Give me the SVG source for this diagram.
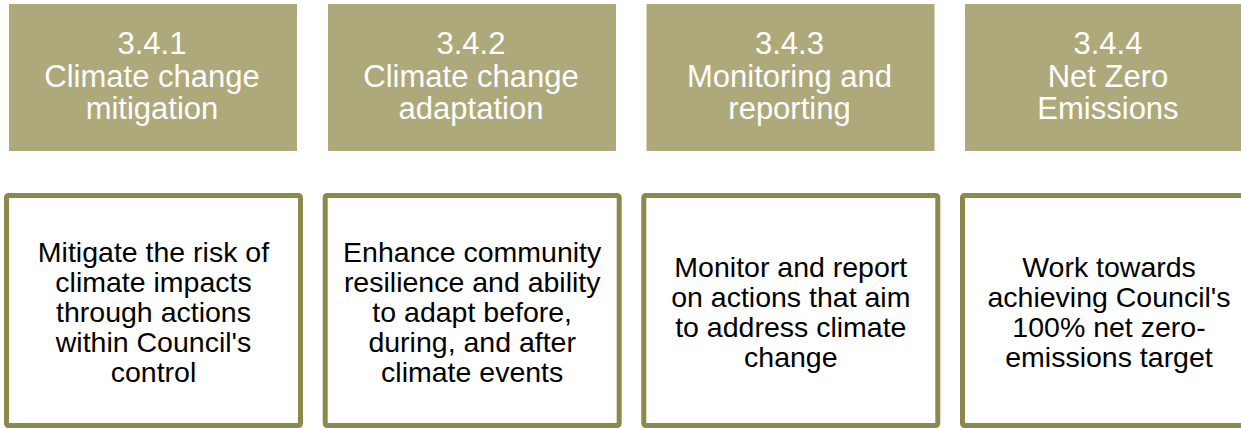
<svg xmlns="http://www.w3.org/2000/svg" width="1241" height="428" viewBox="0 0 1241 428">
  <style>
    .head { fill: #ADA97B; }
    .body { fill: #FFFFFF; stroke: #8C894B; stroke-width: 5; }
    .ht { font-family: "Liberation Sans", Arial, sans-serif; font-size: 31px; fill: #FFFFFF; text-anchor: middle; }
    .bt { font-family: "Liberation Sans", Arial, sans-serif; font-size: 28.5px; fill: #000000; text-anchor: middle; }
  </style>
  <rect width="1241" height="428" fill="#FFFFFF"/>
  <g id="connectors"></g>
  <g id="head1">
    <rect class="head" x="9" y="4" width="288" height="147"/>
    <text class="ht" x="152" y="54">3.4.1</text>
    <text class="ht" x="152" y="87">Climate change</text>
    <text class="ht" x="152" y="119">mitigation</text>
  </g>
  <g id="head2">
    <rect class="head" x="328" y="4" width="288" height="147"/>
    <text class="ht" x="471" y="54">3.4.2</text>
    <text class="ht" x="471" y="87">Climate change</text>
    <text class="ht" x="471" y="119">adaptation</text>
  </g>
  <g id="head3">
    <rect class="head" x="646.5" y="4" width="288" height="147"/>
    <text class="ht" x="789.5" y="54">3.4.3</text>
    <text class="ht" x="789.5" y="87">Monitoring and</text>
    <text class="ht" x="789.5" y="119">reporting</text>
  </g>
  <g id="head4">
    <rect class="head" x="965" y="4" width="288" height="147"/>
    <text class="ht" x="1108" y="54">3.4.4</text>
    <text class="ht" x="1108" y="87">Net Zero</text>
    <text class="ht" x="1108" y="119">Emissions</text>
  </g>
  <g id="body1">
    <rect class="body" x="6.5" y="195.5" width="294" height="230" rx="2"/>
    <text class="bt" x="153.5" y="262">Mitigate the risk of</text>
    <text class="bt" x="153.5" y="292">climate impacts</text>
    <text class="bt" x="153.5" y="322">through actions</text>
    <text class="bt" x="153.5" y="352">within Council's</text>
    <text class="bt" x="153.5" y="382">control</text>
  </g>
  <g id="body2">
    <rect class="body" x="325.2" y="195.5" width="294" height="230" rx="2"/>
    <text class="bt" x="472.2" y="262">Enhance community</text>
    <text class="bt" x="472.2" y="292">resilience and ability</text>
    <text class="bt" x="472.2" y="322">to adapt before,</text>
    <text class="bt" x="472.2" y="352">during, and after</text>
    <text class="bt" x="472.2" y="382">climate events</text>
  </g>
  <g id="body3">
    <rect class="body" x="643.8" y="195.5" width="294" height="230" rx="2"/>
    <text class="bt" x="790.8" y="277">Monitor and report</text>
    <text class="bt" x="790.8" y="307">on actions that aim</text>
    <text class="bt" x="790.8" y="337">to address climate</text>
    <text class="bt" x="790.8" y="367">change</text>
  </g>
  <g id="body4">
    <rect class="body" x="962.5" y="195.5" width="294" height="230" rx="2"/>
    <text class="bt" x="1109" y="277">Work towards</text>
    <text class="bt" x="1109" y="307">achieving Council's</text>
    <text class="bt" x="1109" y="337">100% net zero-</text>
    <text class="bt" x="1109" y="367">emissions target</text>
  </g>
</svg>
